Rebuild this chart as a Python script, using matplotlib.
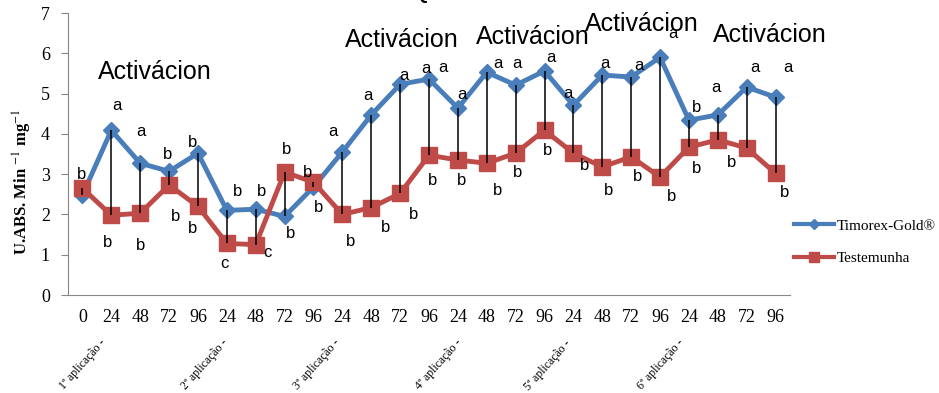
import matplotlib
matplotlib.use("Agg")
import matplotlib.pyplot as plt
from matplotlib.lines import Line2D

hours = ["0", "24", "48", "72", "96", "24", "48", "72", "96", "24", "48", "72", "96",
         "24", "48", "72", "96", "24", "48", "72", "96", "24", "48", "72", "96"]
applications = ["1ª aplicação -", "2ª aplicação -", "3ª aplicação -",
                "4ª aplicação -", "5ª aplicação -", "6ª aplicação -"]

timorex = [2.48, 4.09, 3.27, 3.07, 3.52, 2.10, 2.13, 1.95, 2.68, 3.55, 4.47, 5.23, 5.36,
           4.64, 5.53, 5.21, 5.56, 4.71, 5.46, 5.41, 5.90, 4.34, 4.47, 5.16, 4.91]
testemunha = [2.65, 1.98, 2.03, 2.73, 2.20, 1.28, 1.25, 3.05, 2.80, 2.00, 2.17, 2.52, 3.47,
              3.35, 3.27, 3.52, 4.09, 3.52, 3.18, 3.43, 2.93, 3.67, 3.85, 3.65, 3.02]

letters_timorex = ["b", "a", "a", "b", "b", "b", "b", "b", "b", "a", "a", "a", "a",
                   "a", "a", "a", "a", "a", "a", "a", "a", "b", "a", "a", "a"]
letters_testemunha = ["", "b", "b", "b", "b", "c", "c", "b", "b", "b", "b", "b", "b",
                      "b", "b", "b", "b", "b", "b", "b", "b", "b", "b", "", "b"]

# label offsets in pixels (layout only)
off_t = [(-1, 21), (6, 25), (1, 32), (-2, 17), (-5, 11), (11, 19), (6, 18), (6, -17), (5, -20),
         (-9, 20), (-3, 19), (4, 9), (-3, 11), (4, 14), (11, 9), (1, 22), (6, 14), (-5, 12),
         (3, 12), (8, 12), (13, 24), (8, 13), (-2, 27), (8, 20), (12, 30)]
off_r = [(0, 0), (-4, -27), (0, -32), (6, -31), (-5, -22), (-2, -20), (12, -8), (2, 23), (-6, 10),
         (8, -27), (14, -20), (13, -21), (4, -25), (4, -20), (11, -27), (2, -19), (3, -20),
         (11, -12), (6, -24), (6, -20), (12, -20), (8, -21), (14, -23), (0, 0), (9, -19)]

activ_pos = [(2.51, 5.53), (11.07, 6.33), (15.60, 6.40), (19.38, 6.73), (23.81, 6.45)]
app_pos = [0.6, 4.8, 8.7, 12.9, 16.7, 20.6]

blue = "#4A7EBB"
red = "#BE4B48"
serif = "Liberation Serif"
sans = "Liberation Sans"

fig = plt.figure(figsize=(9.39, 3.93), dpi=100)
ax = fig.add_axes([68 / 939, 98 / 393, 722 / 939, 282 / 393])

x = list(range(len(hours)))
ax.vlines(x, [min(a, b) for a, b in zip(timorex, testemunha)],
          [max(a, b) for a, b in zip(timorex, testemunha)],
          color="black", lw=1.1, zorder=5)
ax.plot(x, timorex, color=blue, lw=3.5, marker="D", ms=8.5, zorder=3)
ax.plot(x, testemunha, color=red, lw=3.5, marker="s", ms=11, zorder=4)

for i in x:
    if letters_timorex[i]:
        ax.annotate(letters_timorex[i], (i, timorex[i]), xytext=off_t[i],
                    textcoords="offset pixels", ha="center", va="center",
                    fontsize=12, family=sans, zorder=6)
    if letters_testemunha[i]:
        ax.annotate(letters_testemunha[i], (i, testemunha[i]), xytext=off_r[i],
                    textcoords="offset pixels", ha="center", va="center",
                    fontsize=12, family=sans, zorder=6)
# second "a" printed near the 4th application 96 h
ax.annotate("a", (12, timorex[12]), xytext=(14, 12), textcoords="offset pixels",
            ha="center", va="center", fontsize=12, family=sans)

for px, py in activ_pos:
    ax.text(px, py, "Activácion", ha="center", va="center", fontsize=18, family=sans)

ax.set_xlim(-0.5, 24.5)
ax.set_ylim(0, 7)
ax.set_yticks(range(8))
ax.set_xticks(x)
ax.set_xticklabels(hours, family=serif, fontsize=13)
ax.tick_params(axis="x", length=0, pad=10)
ax.tick_params(axis="y", length=5, color="#868686", labelsize=13, pad=8)
for lab in ax.get_yticklabels():
    lab.set_family(serif)
for s in ["top", "right"]:
    ax.spines[s].set_visible(False)
for s in ["left", "bottom"]:
    ax.spines[s].set_color("#868686")

for px, name in zip(app_pos, applications):
    ax.text(px, -1.05, name, rotation=48, rotation_mode="anchor", ha="right", va="top",
            fontsize=8.5, family=serif, clip_on=False)

fig.text(22 / 939, 1 - 182 / 393, r"U.ABS. Min $^{-1}$ mg$^{-1}$", rotation=90,
         ha="center", va="center", fontsize=12, fontweight="bold", family=serif,
         math_fontfamily="stix")

handles = [Line2D([], [], color=blue, lw=3, marker="D", ms=5),
           Line2D([], [], color=red, lw=3, marker="s", ms=7)]
fig.legend(handles, ["Timorex-Gold®", "Testemunha"], loc="center left",
           bbox_to_anchor=(788 / 939, 1 - 242 / 393), frameon=False,
           prop={"family": serif, "size": 11}, handlelength=2.6, handletextpad=0.2,
           labelspacing=1.2, borderaxespad=0)

fig.text(0.487, 1.015, "Quitinasa", ha="center", va="center", fontsize=14,
         fontweight="bold", family=sans)

fig.savefig("out.png", dpi=100)
